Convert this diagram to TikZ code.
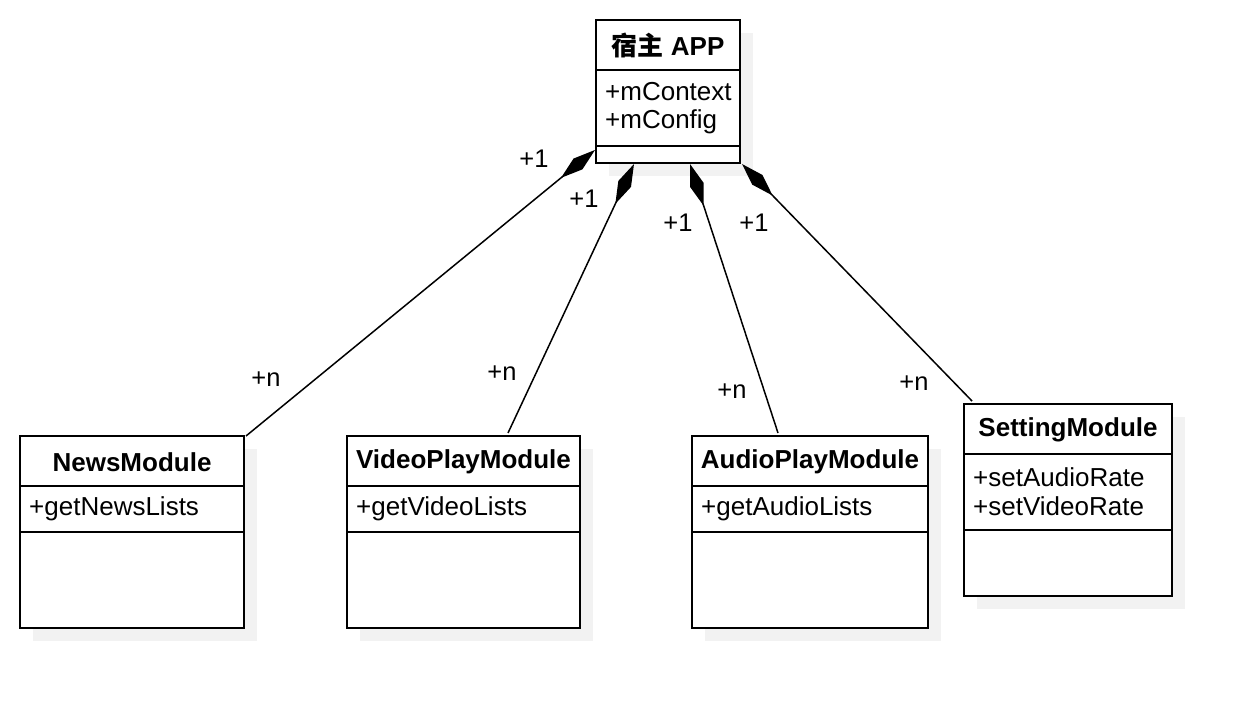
\documentclass[tikz,border=0pt]{standalone}
\usepackage{fontspec}
\setmainfont{Liberation Sans}
\newfontfamily\cjk{Noto Sans CJK SC}
\usetikzlibrary{arrows.meta,calc}
\definecolor{shadowgray}{HTML}{F2F2F2}
\begin{document}
\begin{tikzpicture}[x=1pt,y=-1pt,
  umlbox/.style={draw=black,fill=white,line width=2pt,inner sep=0pt,anchor=north west},
  shadowbox/.style={fill=shadowgray,draw=none,inner sep=0pt,anchor=north west},
  divider/.style={line width=2pt},
  headtxt/.style={font=\fontsize{26}{29}\selectfont\bfseries,inner sep=0pt},
  attrtxt/.style={font=\fontsize{26}{29}\selectfont,inner sep=0pt,anchor=west},
  multtxt/.style={font=\fontsize{25.5}{29}\selectfont,inner sep=0pt},
  comp/.style={line width=1.5pt,-{Diamond[length=44pt,width=14pt]}}
]
\useasboundingbox (0,0) rectangle (1252,708);
\fill[white] (0,0) rectangle (1252,708);

% ---------- Host APP ----------
\node[shadowbox,minimum width=144pt,minimum height=143pt] (hostsh) at (609,33) {};
\node[umlbox,minimum width=144pt,minimum height=143pt] (host) at (595,19) {};
\draw[divider] ($(host.north west)+(0,51)$) -- ($(host.north east)+(0,51)$);
\draw[divider] ($(host.north west)+(0,127)$) -- ($(host.north east)+(0,127)$);
\node[headtxt] (hostt) at (668,45) {{\cjk 宿主} APP};
\node[attrtxt] (hosta1) at (605,92) {+mContext};
\node[attrtxt] (hosta2) at (605,122) {+mConfig};

% ---------- NewsModule ----------
\node[shadowbox,minimum width=224pt,minimum height=192pt] (newssh) at (33,449) {};
\node[umlbox,minimum width=224pt,minimum height=192pt] (news) at (19,435) {};
\draw[divider] ($(news.north west)+(0,51)$) -- ($(news.north east)+(0,51)$);
\draw[divider] ($(news.north west)+(0,97)$) -- ($(news.north east)+(0,97)$);
\node[headtxt] (newst) at (132,462) {NewsModule};
\node[attrtxt] (newsa1) at (29,509) {+getNewsLists};

% ---------- VideoPlayModule ----------
\node[shadowbox,minimum width=233pt,minimum height=192pt] (videosh) at (360,449) {};
\node[umlbox,minimum width=233pt,minimum height=192pt] (video) at (346,435) {};
\draw[divider] ($(video.north west)+(0,51)$) -- ($(video.north east)+(0,51)$);
\draw[divider] ($(video.north west)+(0,97)$) -- ($(video.north east)+(0,97)$);
\node[headtxt] (videot) at (463.5,462) {VideoPlayModule};
\node[attrtxt] (videoa1) at (356,509) {+getVideoLists};

% ---------- AudioPlayModule ----------
\node[shadowbox,minimum width=236pt,minimum height=192pt] (audiosh) at (705,449) {};
\node[umlbox,minimum width=236pt,minimum height=192pt] (audio) at (691,435) {};
\draw[divider] ($(audio.north west)+(0,51)$) -- ($(audio.north east)+(0,51)$);
\draw[divider] ($(audio.north west)+(0,97)$) -- ($(audio.north east)+(0,97)$);
\node[headtxt] (audiot) at (810,462) {AudioPlayModule};
\node[attrtxt] (audioa1) at (701,509) {+getAudioLists};

% ---------- SettingModule ----------
\node[shadowbox,minimum width=208pt,minimum height=192pt] (settingsh) at (977,417) {};
\node[umlbox,minimum width=208pt,minimum height=192pt] (setting) at (963,403) {};
\draw[divider] ($(setting.north west)+(0,51)$) -- ($(setting.north east)+(0,51)$);
\draw[divider] ($(setting.north west)+(0,127)$) -- ($(setting.north east)+(0,127)$);
\node[headtxt] (settingt) at (1068,430) {SettingModule};
\node[attrtxt] (settinga1) at (973,477) {+setAudioRate};
\node[attrtxt] (settinga2) at (973,506) {+setVideoRate};

% ---------- connectors ----------
\coordinate (hN) at ($(host.north west)+(0,131)$);
\coordinate (hV) at ($(host.south west)+(39,0)$);
\coordinate (hA) at ($(host.south west)+(95,0)$);
\coordinate (hS) at ($(host.south east)+(1,0)$);
\coordinate (mV) at ($(video.north west)+(162,-2)$);
\coordinate (mA) at ($(audio.north west)+(87,-2)$);
\coordinate (mS) at ($(setting.north west)+(9,-2)$);
\draw[comp] ($(news.north east)+(1,1)$) -- (hN);
\draw[comp] (mV) -- (hV);
\draw[comp] (mA) -- (hA);
\draw[comp] (mS) -- (hS);

% ---------- multiplicities ----------
\node[multtxt] (m1a) at (534,159) {+1};
\node[multtxt] (m1b) at (584,199) {+1};
\node[multtxt] (m1c) at (678,223) {+1};
\node[multtxt] (m1d) at (754,223) {+1};
\node[multtxt] (mna) at (266,379) {+n};
\node[multtxt] (mnb) at (502,373) {+n};
\node[multtxt] (mnc) at (732,391) {+n};
\node[multtxt] (mnd) at (914,383) {+n};
\end{tikzpicture}
\end{document}
